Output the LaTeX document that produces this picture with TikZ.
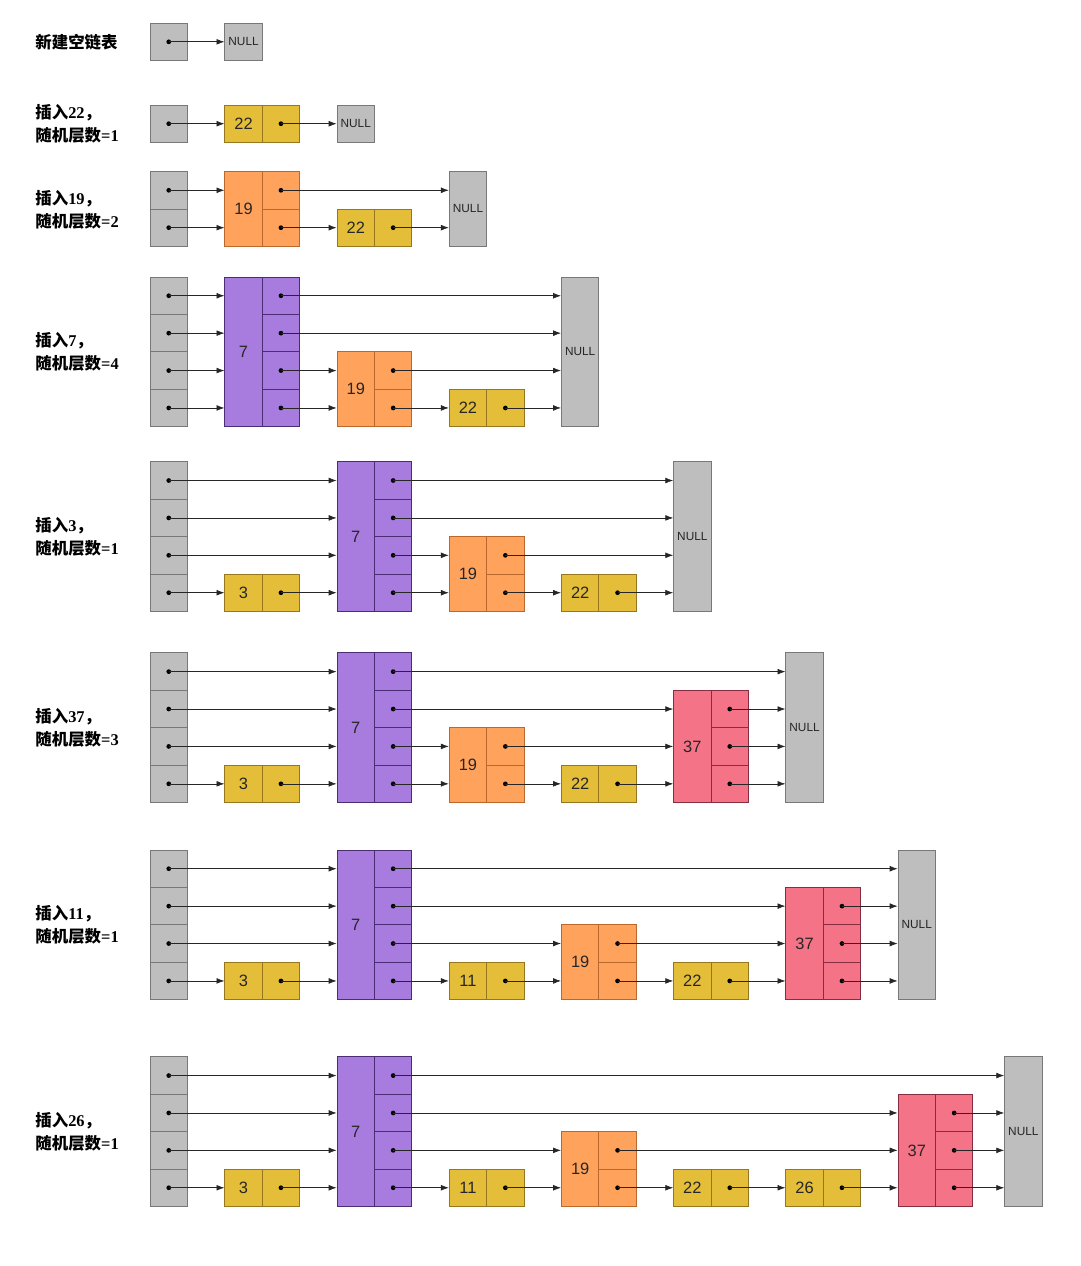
\documentclass[tikz,border=0pt]{standalone}
\usepackage{fontspec}
\setmainfont{Liberation Sans}
\newfontfamily\cjkfont{Noto Sans CJK SC}
\newfontfamily\numfont{Liberation Serif}
\usetikzlibrary{arrows.meta}

\definecolor{cellgray}{RGB}{190,190,190}
\definecolor{cellgrayline}{RGB}{120,120,120}
\definecolor{keyyellow}{RGB}{229,190,57}
\definecolor{keyyellowline}{RGB}{150,118,30}
\definecolor{keyorange}{RGB}{255,163,92}
\definecolor{keyorangeline}{RGB}{185,105,45}
\definecolor{keypurple}{RGB}{168,123,222}
\definecolor{keypurpleline}{RGB}{75,45,115}
\definecolor{keypink}{RGB}{245,115,135}
\definecolor{keypinkline}{RGB}{135,45,65}

% element: key cell + one pointer cell per level (name, x, bottom y, levels, key, style)
\newcommand{\sknode}[6]{%
  \node[cell, #6, minimum height=#4cm, anchor=south west] (#1) at (#2,#3) {#5};
  \foreach \l in {1,...,#4}{
    \node[cell, #6, anchor=south west] (#1-\l) at ({#2+1},{#3-\l+1}) {};
    \fill (#1-\l.center) circle (1.8pt);
  }
}
% head pointers (name, x, bottom y, levels)
\newcommand{\skhead}[4]{%
  \foreach \l in {1,...,#4}{
    \node[cell, headcell, anchor=south west] (#1-\l) at (#2,{#3-\l+1}) {};
    \fill (#1-\l.center) circle (1.8pt);
  }
}
% NULL end (name, x, bottom y, levels)
\newcommand{\sknull}[4]{%
  \node[cell, headcell, minimum height=#4cm, anchor=south west, font=\fontsize{9}{10}\selectfont] (#1) at (#2,#3) {NULL};
}
\newcommand{\sklink}[2]{\draw[ptr] (#1.center) -- (#2.west |- #1.center);}
\newcommand{\steptxt}[2]{{\cjkfont 插入}{\numfont #1}{\cjkfont ，}\\{\cjkfont 随机层数}{\numfont =#2}}

\begin{document}
\begin{tikzpicture}[x=1cm, y=-1cm,
    cell/.style={rectangle, draw, line width=0.7pt, minimum width=1cm, minimum height=1cm, inner sep=0pt, text=black!85, font=\fontsize{12.5}{14}\selectfont},
    headcell/.style={fill=cellgray, draw=cellgrayline},
    yellowkey/.style={fill=keyyellow, draw=keyyellowline},
    orangekey/.style={fill=keyorange, draw=keyorangeline},
    purplekey/.style={fill=keypurple, draw=keypurpleline},
    pinkkey/.style={fill=keypink, draw=keypinkline},
    ptr/.style={-{Latex[length=6pt,width=4.4pt]}, line width=0.5pt, black!85},
    steptext/.style={anchor=west, align=left, inner sep=0pt, font=\bfseries\fontsize{12.5}{17.5}\selectfont}
]
\useasboundingbox (0,0) rectangle (28.877,33.85);

% 1: empty list
\node[steptext] (s1t) at (0.94,1.13) {\cjkfont 新建空链表};
\skhead{s1h}{4}{1.63}{1}
\sknull{s1z}{6}{1.63}{1}
\sklink{s1h-1}{s1z}

% 2: insert 22
\node[steptext] (s2t) at (0.94,3.32) {\steptxt{22}{1}};
\skhead{s2h}{4}{3.82}{1}
\sknode{s2n22}{6}{3.82}{1}{22}{yellowkey}
\sknull{s2z}{9}{3.82}{1}
\foreach \a/\b in {s2h-1/s2n22, s2n22-1/s2z} \sklink{\a}{\b};

% 3: insert 19
\node[steptext] (s3t) at (0.94,5.6) {\steptxt{19}{2}};
\skhead{s3h}{4}{6.6}{2}
\sknode{s3n19}{6}{6.6}{2}{19}{orangekey}
\sknode{s3n22}{9}{6.6}{1}{22}{yellowkey}
\sknull{s3z}{12}{6.6}{2}
\foreach \a/\b in {s3h-1/s3n19, s3n19-1/s3n22, s3n22-1/s3z,
                   s3h-2/s3n19, s3n19-2/s3z} \sklink{\a}{\b};

% 4: insert 7
\node[steptext] (s4t) at (0.94,9.42) {\steptxt{7}{4}};
\skhead{s4h}{4}{11.42}{4}
\sknode{s4n7}{6}{11.42}{4}{7}{purplekey}
\sknode{s4n19}{9}{11.42}{2}{19}{orangekey}
\sknode{s4n22}{12}{11.42}{1}{22}{yellowkey}
\sknull{s4z}{15}{11.42}{4}
\foreach \a/\b in {s4h-1/s4n7, s4n7-1/s4n19, s4n19-1/s4n22, s4n22-1/s4z,
                   s4h-2/s4n7, s4n7-2/s4n19, s4n19-2/s4z,
                   s4h-3/s4n7, s4n7-3/s4z,
                   s4h-4/s4n7, s4n7-4/s4z} \sklink{\a}{\b};

% 5: insert 3
\node[steptext] (s5t) at (0.94,14.36) {\steptxt{3}{1}};
\skhead{s5h}{4}{16.36}{4}
\sknode{s5n3}{6}{16.36}{1}{3}{yellowkey}
\sknode{s5n7}{9}{16.36}{4}{7}{purplekey}
\sknode{s5n19}{12}{16.36}{2}{19}{orangekey}
\sknode{s5n22}{15}{16.36}{1}{22}{yellowkey}
\sknull{s5z}{18}{16.36}{4}
\foreach \a/\b in {s5h-1/s5n3, s5n3-1/s5n7, s5n7-1/s5n19, s5n19-1/s5n22, s5n22-1/s5z,
                   s5h-2/s5n7, s5n7-2/s5n19, s5n19-2/s5z,
                   s5h-3/s5n7, s5n7-3/s5z,
                   s5h-4/s5n7, s5n7-4/s5z} \sklink{\a}{\b};

% 6: insert 37
\node[steptext] (s6t) at (0.94,19.47) {\steptxt{37}{3}};
\skhead{s6h}{4}{21.47}{4}
\sknode{s6n3}{6}{21.47}{1}{3}{yellowkey}
\sknode{s6n7}{9}{21.47}{4}{7}{purplekey}
\sknode{s6n19}{12}{21.47}{2}{19}{orangekey}
\sknode{s6n22}{15}{21.47}{1}{22}{yellowkey}
\sknode{s6n37}{18}{21.47}{3}{37}{pinkkey}
\sknull{s6z}{21}{21.47}{4}
\foreach \a/\b in {s6h-1/s6n3, s6n3-1/s6n7, s6n7-1/s6n19, s6n19-1/s6n22, s6n22-1/s6n37, s6n37-1/s6z,
                   s6h-2/s6n7, s6n7-2/s6n19, s6n19-2/s6n37, s6n37-2/s6z,
                   s6h-3/s6n7, s6n7-3/s6n37, s6n37-3/s6z,
                   s6h-4/s6n7, s6n7-4/s6z} \sklink{\a}{\b};

% 7: insert 11
\node[steptext] (s7t) at (0.94,24.74) {\steptxt{11}{1}};
\skhead{s7h}{4}{26.74}{4}
\sknode{s7n3}{6}{26.74}{1}{3}{yellowkey}
\sknode{s7n7}{9}{26.74}{4}{7}{purplekey}
\sknode{s7n11}{12}{26.74}{1}{11}{yellowkey}
\sknode{s7n19}{15}{26.74}{2}{19}{orangekey}
\sknode{s7n22}{18}{26.74}{1}{22}{yellowkey}
\sknode{s7n37}{21}{26.74}{3}{37}{pinkkey}
\sknull{s7z}{24}{26.74}{4}
\foreach \a/\b in {s7h-1/s7n3, s7n3-1/s7n7, s7n7-1/s7n11, s7n11-1/s7n19, s7n19-1/s7n22, s7n22-1/s7n37, s7n37-1/s7z,
                   s7h-2/s7n7, s7n7-2/s7n19, s7n19-2/s7n37, s7n37-2/s7z,
                   s7h-3/s7n7, s7n7-3/s7n37, s7n37-3/s7z,
                   s7h-4/s7n7, s7n7-4/s7z} \sklink{\a}{\b};

% 8: insert 26
\node[steptext] (s8t) at (0.94,30.27) {\steptxt{26}{1}};
\skhead{s8h}{4}{32.27}{4}
\sknode{s8n3}{6}{32.27}{1}{3}{yellowkey}
\sknode{s8n7}{9}{32.27}{4}{7}{purplekey}
\sknode{s8n11}{12}{32.27}{1}{11}{yellowkey}
\sknode{s8n19}{15}{32.27}{2}{19}{orangekey}
\sknode{s8n22}{18}{32.27}{1}{22}{yellowkey}
\sknode{s8n26}{21}{32.27}{1}{26}{yellowkey}
\sknode{s8n37}{24}{32.27}{3}{37}{pinkkey}
\sknull{s8z}{26.85}{32.27}{4}
\foreach \a/\b in {s8h-1/s8n3, s8n3-1/s8n7, s8n7-1/s8n11, s8n11-1/s8n19, s8n19-1/s8n22, s8n22-1/s8n26, s8n26-1/s8n37, s8n37-1/s8z,
                   s8h-2/s8n7, s8n7-2/s8n19, s8n19-2/s8n37, s8n37-2/s8z,
                   s8h-3/s8n7, s8n7-3/s8n37, s8n37-3/s8z,
                   s8h-4/s8n7, s8n7-4/s8z} \sklink{\a}{\b};

\end{tikzpicture}
\end{document}
